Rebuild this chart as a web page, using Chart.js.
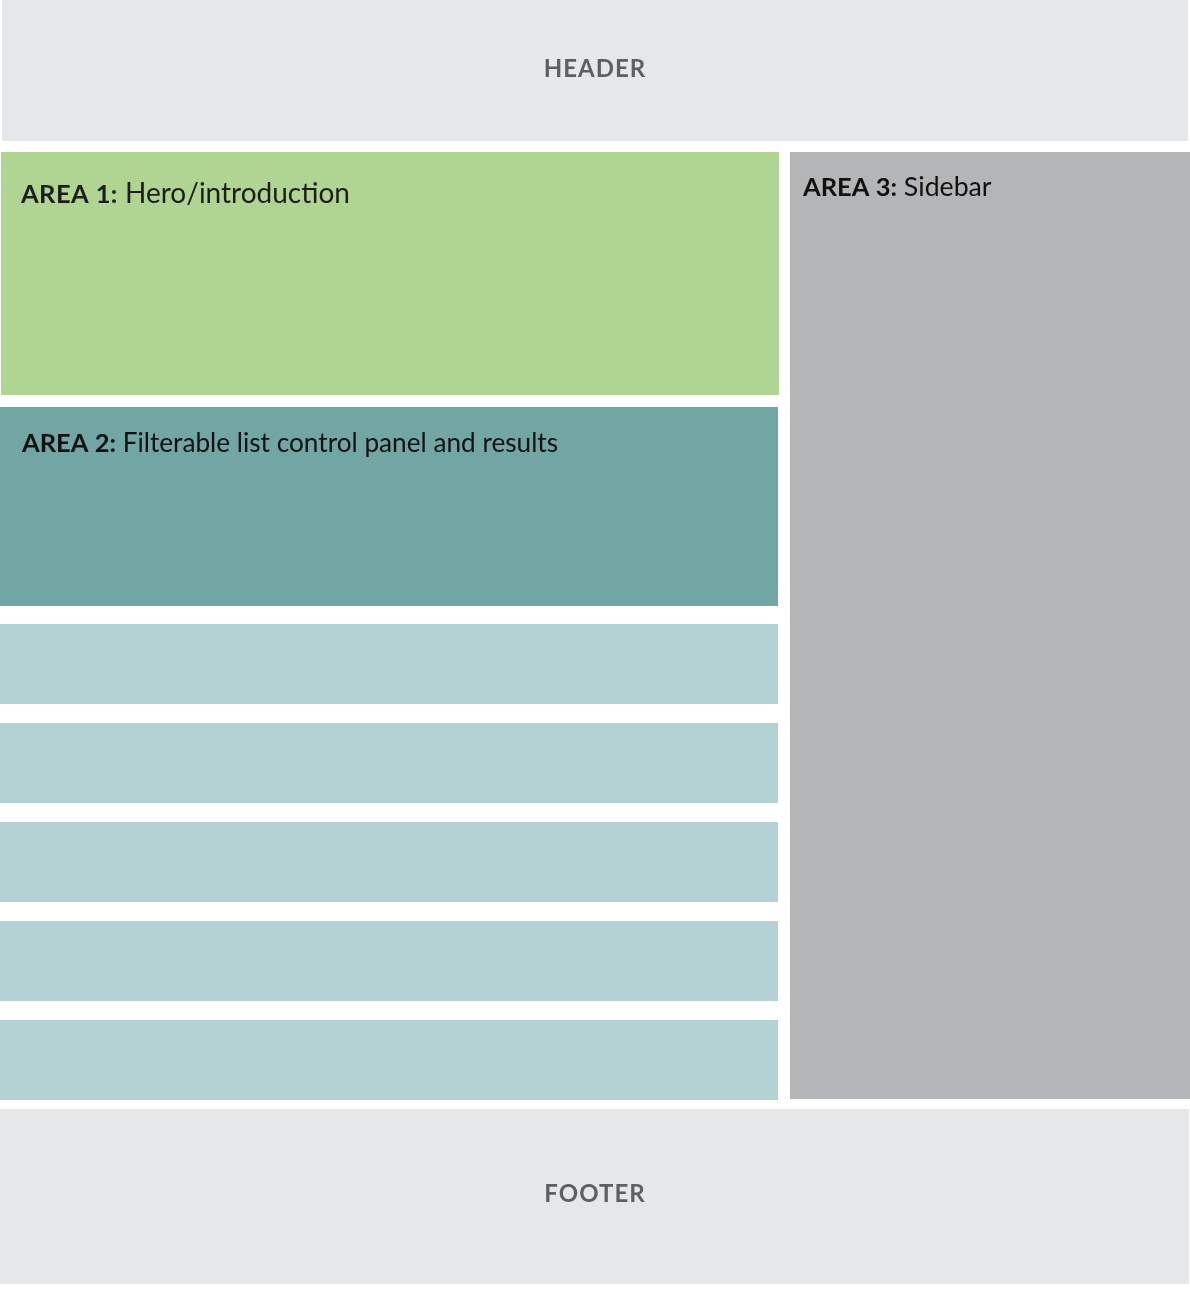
<!DOCTYPE html>
<html>
<head>
<meta charset="utf-8">
<title>Page layout wireframe</title>
<script src="https://cdn.jsdelivr.net/npm/chart.js@4.4.1/dist/chart.umd.min.js"></script>
<style>
  html, body { margin: 0; padding: 0; background: #ffffff; }
  #wrap { width: 1190px; height: 1294px; }
</style>
</head>
<body>
<div id="wrap"><canvas id="layoutChart" width="1190" height="1294"></canvas></div>
<script>
// Layout blocks, in page units (0..1190 across, 0..1294 down)
const blockNames = ['Header', 'Area 1', 'Area 3', 'Area 2', 'Result 1', 'Result 2', 'Result 3', 'Result 4', 'Result 5', 'Footer'];
const blockLeft = [2, 1, 790, 0, 0, 0, 0, 0, 0, 0];
const blockRight = [1188, 779, 1190, 778, 778, 778, 778, 778, 778, 1189];
const blockTop = [0, 152, 152, 407, 624, 723, 822, 921, 1020, 1109];
const blockBottom = [141, 395, 1099, 606, 704, 803, 902, 1001, 1100, 1284];

// Labels inside blocks
const labelBold = ['HEADER', 'AREA 1:', 'AREA 3:', 'AREA 2:', '', '', '', '', '', 'FOOTER'];
const labelText = ['', ' Hero/introduction', ' Sidebar', ' Filterable list control panel and results', '', '', '', '', '', ''];

// Colours and label placement
const blockColors = ['#e6e7e9', '#b0d592', '#b4b5b7', '#72a6a4', '#b4d2d3', '#b4d2d3', '#b4d2d3', '#b4d2d3', '#b4d2d3', '#e6e7e9'];
const labelStyle = {
  Header: { align: 'center', x: 595, y: 77, color: '#5e5f61', boldSize: 24, size: 24, spacing: 1 },
  Footer: { align: 'center', x: 595, y: 1202, color: '#5e5f61', boldSize: 24, size: 24, spacing: 1 },
  'Area 1': { align: 'left', x: 21, y: 203, color: '#1d1d1b', boldSize: 25.5, size: 28, spacing: 0.4 },
  'Area 3': { align: 'left', x: 803, y: 196, color: '#111111', boldSize: 25.5, size: 26.7, spacing: 0 },
  'Area 2': { align: 'left', x: 22, y: 452, color: '#111111', boldSize: 25.5, size: 26.2, spacing: 0 }
};
const FONT = 'Lato, "Open Sans", sans-serif';

// Draws each block through the chart's x / y scales
const blocksPlugin = {
  id: 'blocks',
  beforeDatasetsDraw(chart) {
    const { ctx, scales: { x, y } } = chart;
    ctx.save();
    blockNames.forEach((name, i) => {
      const x0 = x.getPixelForValue(blockLeft[i]);
      const x1 = x.getPixelForValue(blockRight[i]);
      const y0 = y.getPixelForValue(blockTop[i]);
      const y1 = y.getPixelForValue(blockBottom[i]);
      ctx.fillStyle = blockColors[i];
      ctx.fillRect(x0, y0, x1 - x0, y1 - y0);
    });
    ctx.restore();
  },
  afterDatasetsDraw(chart) {
    const { ctx, scales: { x, y } } = chart;
    ctx.save();
    ctx.textBaseline = 'alphabetic';
    ctx.textAlign = 'left';
    blockNames.forEach((name, i) => {
      const st = labelStyle[name];
      if (!st) return;
      const px = x.getPixelForValue(st.x);
      const py = y.getPixelForValue(st.y);
      const bold = '700 ' + st.boldSize + 'px ' + FONT;
      const reg = '400 ' + st.size + 'px ' + FONT;
      ctx.fillStyle = st.color;
      ctx.letterSpacing = st.spacing + 'px';
      ctx.font = bold;
      const wBold = ctx.measureText(labelBold[i]).width;
      ctx.letterSpacing = '0px';
      ctx.font = reg;
      const wReg = ctx.measureText(labelText[i]).width;
      const start = st.align === 'center' ? px - (wBold + wReg) / 2 : px;
      ctx.letterSpacing = st.spacing + 'px';
      ctx.font = bold;
      ctx.fillText(labelBold[i], start, py);
      ctx.letterSpacing = '0px';
      ctx.font = reg;
      ctx.fillText(labelText[i], start + wBold, py);
    });
    ctx.restore();
  }
};

new Chart(document.getElementById('layoutChart'), {
  type: 'scatter',
  data: {
    datasets: [{
      label: 'Blocks',
      data: blockNames.map((n, i) => ({ x: (blockLeft[i] + blockRight[i]) / 2, y: (blockTop[i] + blockBottom[i]) / 2 })),
      pointRadius: 0,
      pointHoverRadius: 0
    }]
  },
  options: {
    responsive: false,
    devicePixelRatio: 1,
    animation: false,
    layout: { padding: 0 },
    plugins: { legend: { display: false }, tooltip: { enabled: false } },
    scales: {
      x: { type: 'linear', min: 0, max: 1190, display: false },
      y: { type: 'linear', min: 0, max: 1294, reverse: true, display: false }
    }
  },
  plugins: [blocksPlugin]
});
</script>
</body>
</html>
